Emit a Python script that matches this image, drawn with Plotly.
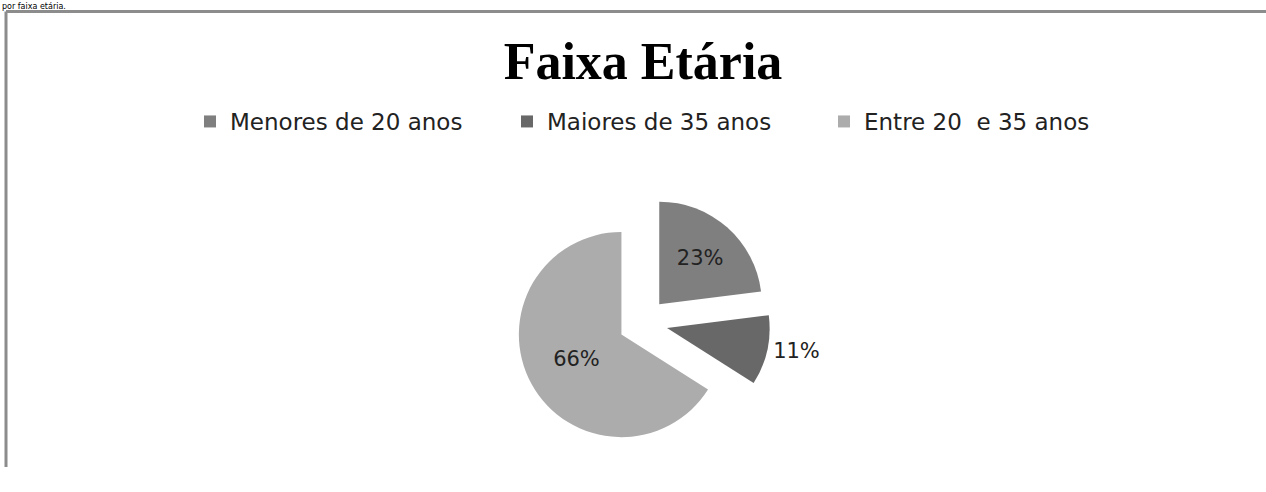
import plotly.graph_objects as go

categories = ["Menores de 20 anos", "Maiores de 35 anos", "Entre 20  e 35 anos"]
values = [23, 11, 66]
slice_colors = ["#7f7f7f", "#686868", "#acacac"]
pulls = [0.24, 0.24, 0.24]
text_positions = ["inside", "outside", "inside"]

W, H = 1266, 492

def px(x):
    return x / W

def py(y):
    return 1 - y / H

cx, cy, half = 643, 340, 134

fig = go.Figure(go.Pie(
    labels=categories,
    values=values,
    sort=False,
    direction="clockwise",
    rotation=0,
    pull=pulls,
    marker=dict(colors=slice_colors, line=dict(width=0)),
    texttemplate="%{percent:.0%}",
    textposition=text_positions,
    insidetextorientation="horizontal",
    textfont=dict(family="DejaVu Sans, sans-serif", size=21, color="#222222"),
    domain=dict(x=[px(cx - half), px(cx + half)], y=[py(cy + half), py(cy - half)]),
    hoverinfo="label+percent",
    showlegend=True,
))

fig.update_layout(
    width=W, height=H,
    margin=dict(l=0, r=0, t=0, b=0),
    paper_bgcolor="white",
    plot_bgcolor="white",
    title=dict(
        text="<b>Faixa Etária</b>",
        x=px(643), xanchor="center",
        y=py(61), yanchor="middle",
        font=dict(family="Liberation Serif, Times New Roman, serif", size=52, color="black"),
    ),
    legend=dict(
        orientation="h",
        x=px(190), xanchor="left",
        y=py(128), yanchor="middle",
        font=dict(family="DejaVu Sans, sans-serif", size=23, color="#222222"),
        entrywidth=272,
        entrywidthmode="pixels",
        itemsizing="constant",
    ),
    shapes=[
        dict(type="line", xref="paper", yref="paper",
             x0=px(6), x1=px(6), y0=0, y1=py(12),
             line=dict(color="#8c8c8c", width=3)),
        dict(type="line", xref="paper", yref="paper",
             x0=px(6), x1=1.0, y0=py(12), y1=py(12),
             line=dict(color="#8c8c8c", width=3)),
    ],
    annotations=[
        dict(text="por faixa etária.", xref="paper", yref="paper",
             x=0, xanchor="left", y=py(0), yanchor="top",
             showarrow=False,
             font=dict(family="DejaVu Sans, sans-serif", size=8, color="black")),
    ],
)

fig.write_html(
    "out.html",
    config={"displayModeBar": False},
    post_script="document.body.style.margin='0';document.body.style.overflow='hidden';",
)
